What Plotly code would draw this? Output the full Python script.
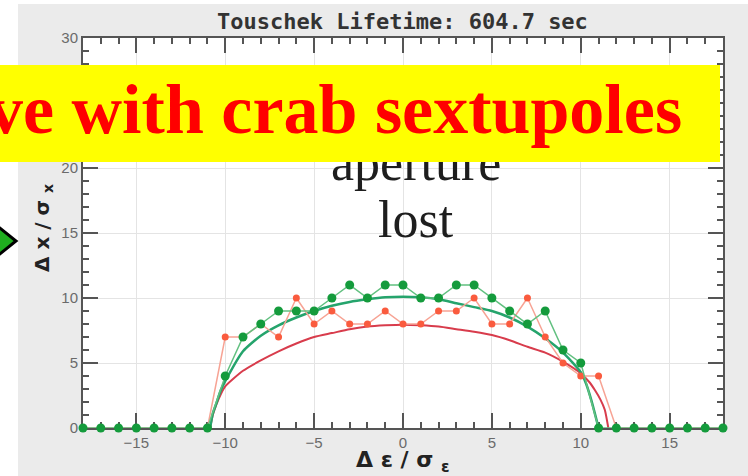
import plotly.graph_objects as go

# ---------------- data ----------------
x_vals = list(range(-18, 19))
green_vals = [0] * 8 + [4, 7, 8, 9, 9, 9, 10, 11, 10, 11, 11, 10, 10, 11, 11, 10, 9, 8, 9, 6, 5] + [0] * 8
red_vals = [0] * 8 + [7, 7, 8, 7, 10, 8, 9, 8, 8, 9, 8, 8, 9, 9, 10, 8, 8, 10, 7, 5, 4, 4] + [0] * 7

green_fit_x = [-10.85, -10.7, -10.5, -10.25, -10, -9, -8, -7, -6, -5, -4, -3, -2, -1, 0, 1, 2, 3, 4, 5, 6, 7, 8, 9, 10, 10.3, 10.6, 11.0]
green_fit_y = [0, 1.1, 1.9, 2.9, 3.6, 5.9, 7.1, 7.9, 8.5, 9.0, 9.4, 9.7, 9.9, 10.05, 10.1, 10.05, 9.9, 9.6, 9.3, 9.0, 8.5, 7.8, 6.9, 5.8, 4.3, 3.4, 2.1, 0]
red_fit_x = [-10.85, -10.7, -10.5, -10.25, -10, -9, -8, -7, -6, -5, -4, -3, -2, -1, 0, 1, 2, 3, 4, 5, 6, 7, 8, 9, 10, 10.5, 10.8, 11.1, 11.35, 11.55]
red_fit_y = [0, 1.0, 1.8, 2.6, 3.2, 4.4, 5.2, 5.9, 6.5, 7.0, 7.3, 7.6, 7.8, 7.9, 7.95, 7.9, 7.8, 7.6, 7.4, 7.15, 6.75, 6.25, 5.8, 5.1, 4.2, 3.5, 2.9, 2.2, 1.4, 0]

x_ticks = [-15, -10, -5, 0, 5, 10, 15]
y_ticks = [0, 5, 10, 15, 20, 25, 30]

title_text = "Touschek Lifetime: 604.7 sec"
banner_text = "ve with crab sextupoles"
note_line1 = "aperture"
note_line2 = "lost"

# ---------------- geometry helpers (pixel -> paper) ----------------
W, H = 748, 476
L, R, T, B = 83, 723, 38, 428


def px(xp):
    return (xp - L) / (R - L)


def py(yp):
    return (B - yp) / (B - T)


fig = go.Figure()

fig.add_trace(go.Scatter(x=red_fit_x, y=red_fit_y, mode="lines",
                         line=dict(color="#d83c4c", width=2, shape="spline", smoothing=0.6),
                         cliponaxis=False, hoverinfo="skip"))
fig.add_trace(go.Scatter(x=green_fit_x, y=green_fit_y, mode="lines",
                         line=dict(color="#25a46c", width=2.5, shape="spline", smoothing=0.6),
                         cliponaxis=False, hoverinfo="skip"))
fig.add_trace(go.Scatter(x=x_vals, y=red_vals, mode="lines+markers",
                         line=dict(color="#f7a394", width=1.5),
                         marker=dict(color="#fa5b3e", size=7),
                         cliponaxis=False))
fig.add_trace(go.Scatter(x=x_vals, y=green_vals, mode="lines+markers",
                         line=dict(color="#62c080", width=1.5),
                         marker=dict(color="#149b3c", size=9),
                         cliponaxis=False))

axis_common = dict(
    showline=True, linecolor="#555555", linewidth=2, mirror="ticks",
    ticks="inside", ticklen=15, tickwidth=2, tickcolor="#555555",
    showgrid=True, gridcolor="#e4e4e4", gridwidth=1, zeroline=False,
    layer="below traces",
    tickfont=dict(family="Liberation Sans", size=15, color="#6a6a6a"),
    minor=dict(ticks="inside", ticklen=6, tickwidth=1.5, tickcolor="#555555", dtick=1, showgrid=False),
)

fig.update_xaxes(range=[-18, 18], tickvals=x_ticks, **axis_common)
fig.update_yaxes(range=[0, 30], tickvals=y_ticks, **axis_common)

shapes = [
    dict(type="rect", xref="paper", yref="paper", x0=px(0), x1=px(18), y0=py(476), y1=py(0),
         fillcolor="white", line=dict(width=0), layer="below"),
    dict(type="rect", xref="paper", yref="paper", x0=px(0), x1=px(748), y0=py(4), y1=py(0),
         fillcolor="white", line=dict(width=0), layer="below"),
    dict(type="path", xref="paper", yref="paper",
         path=f"M {px(-4)},{py(225)} L {px(16)},{py(241)} L {px(-4)},{py(257)} Z",
         fillcolor="#1fae1f", line=dict(color="black", width=3), layer="above"),
]

annotations = [
    dict(text=note_line1, x=px(415.5), y=py(162.5), xref="paper", yref="paper",
         xanchor="center", yanchor="middle", showarrow=False,
         font=dict(family="Liberation Serif", size=52, color="#1e1e1e")),
    dict(text=note_line2, x=px(416), y=py(219.5), xref="paper", yref="paper",
         xanchor="center", yanchor="middle", showarrow=False,
         font=dict(family="Liberation Serif", size=52, color="#1e1e1e")),
    dict(text=" ", x=px(0), y=py(65), xref="paper", yref="paper",
         xanchor="left", yanchor="top", showarrow=False, width=720, height=97,
         bgcolor="#ffff00", borderpad=0, borderwidth=0),
    dict(text=banner_text, x=px(-14), y=py(109.5), xref="paper", yref="paper",
         xanchor="left", yanchor="middle", showarrow=False,
         font=dict(family="Liberation Serif", size=70, color="#ff0000", weight="bold")),
    dict(text="Δ\u00a0x\u00a0/\u00a0σ\u00a0<sub>x</sub>", x=px(43), y=py(228), xref="paper", yref="paper",
         xanchor="center", yanchor="middle", showarrow=False, textangle=-90,
         font=dict(family="DejaVu Sans", size=20, color="#222222", weight="bold")),
    dict(text="Δ\u00a0ε\u00a0/\u00a0σ\u00a0<sub>ε</sub>", x=px(403), y=py(462), xref="paper", yref="paper",
         xanchor="center", yanchor="middle", showarrow=False,
         font=dict(family="DejaVu Sans", size=22, color="#222222", weight="bold")),
    dict(text=title_text, x=px(402), y=py(22), xref="paper", yref="paper",
         xanchor="center", yanchor="middle", showarrow=False,
         font=dict(family="DejaVu Sans Mono", size=22, color="#333333", weight="bold")),
]

fig.update_layout(
    width=W, height=H,
    margin=dict(l=L, r=W - R, t=T, b=H - B),
    paper_bgcolor="#ebebeb", plot_bgcolor="white",
    showlegend=False,
    shapes=shapes, annotations=annotations,
)

fig.write_html("out.html")
